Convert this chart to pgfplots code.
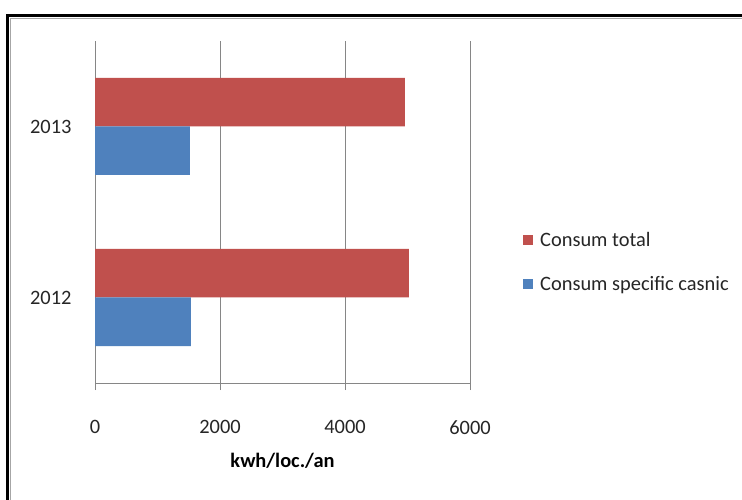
\documentclass[border=0pt]{standalone}
\usepackage{pgfplots}
\pgfplotsset{compat=1.18}
\usepackage{fontspec}
\setmainfont{Carlito}
\definecolor{cred}{HTML}{C0504D}
\definecolor{cblue}{HTML}{4F81BD}
\definecolor{cgrid}{HTML}{868686}
\begin{document}
\begin{tikzpicture}
\useasboundingbox (0bp,0bp) rectangle (742bp,500bp);
\fill[white] (0bp,0bp) rectangle (742bp,500bp);
% frame
\draw[black, line width=3.5bp] (7.25bp,0bp) -- (7.25bp,484.25bp) -- (742bp,484.25bp);
\draw[gray!70, line width=1bp] (10.8bp,0bp) -- (10.8bp,481.3bp) -- (742bp,481.3bp);
\begin{axis}[
  at={(95bp,117bp)}, anchor=south west,
  scale only axis, width=375bp, height=342bp,
  font=\fontsize{20.5}{24}\selectfont,
  /pgf/number format/assume math mode=true,
  xbar, bar width=48.5bp,
  xmin=0, xmax=6000, ymin=-0.5, ymax=1.5,
  axis x line*=bottom, axis y line*=left,
  axis line style={cgrid, line width=0.9bp, -},
  xtick={0,2000,4000,6000},
  xticklabels={0,2000,4000,6000},
  ytick={0,1}, yticklabels={2012,2013},
  xmajorgrids, grid style={cgrid, line width=0.9bp},
  tick align=outside, major tick length=7bp,
  x tick style={cgrid, line width=0.9bp},
  y tick style={draw=none},
  xticklabel style={yshift=-27bp, text=black!85},
  yticklabel style={xshift=-13bp, text=black!85},
  xlabel={\textbf{kwh/loc./an}},
  xlabel style={at={(axis description cs:0.5,0)}, anchor=center, yshift=-78bp, font=\fontsize{20.5}{24}\selectfont\bfseries},
  legend style={at={(rel axis cs:1.1333,0.452)}, anchor=north west, draw=none, fill=none,
    font=\fontsize{20.5}{24}\selectfont, row sep=24bp, text=black!85,
    /tikz/every odd column/.append style={column sep=5bp}},
  legend cell align=left,
  legend image code/.code={\fill[#1] (0bp,-5bp) rectangle (10bp,5bp);},
]
\addplot[fill=cred, draw=none, bar shift=24.25bp] coordinates {(5024,0) (4960,1)};
\addlegendentry{Consum total}
\addplot[fill=cblue, draw=none, bar shift=-24.25bp] coordinates {(1536,0) (1520,1)};
\addlegendentry{Consum specific casnic}
\end{axis}
\end{tikzpicture}
\end{document}
